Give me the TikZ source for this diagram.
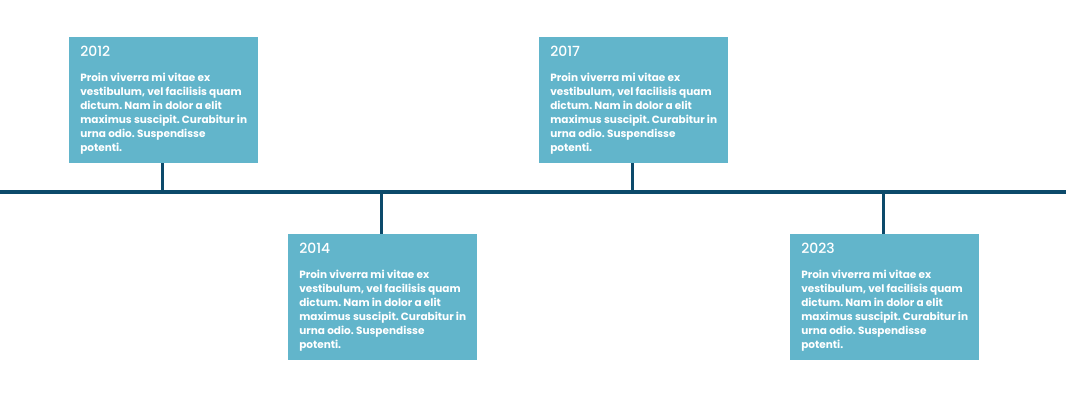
\documentclass[tikz,border=0pt]{standalone}
\usepackage{fontspec}
\setmainfont{Poppins}
\newfontfamily\yearfam{Poppins}[UprightFont={* Medium}]
\usetikzlibrary{positioning,calc}
\definecolor{linenavy}{RGB}{12,74,107}
\definecolor{boxteal}{RGB}{98,181,203}
\tikzset{
  event/.style ={rectangle, fill=boxteal, text=white, anchor=north west,
                 minimum width=189pt, minimum height=126pt, inner sep=0pt,
                 align=left, font=\fontsize{10.5}{14}\selectfont\bfseries\frenchspacing},
  axis/.style  ={draw=linenavy, line width=4pt},
  stem/.style  ={draw=linenavy, line width=3pt},
}
\newcommand{\yearfont}{\fontsize{14}{14}\selectfont\yearfam\mdseries}
\newcommand{\evtext}{Proin viverra mi vitae ex\\ vestibulum, vel facilisis quam\\ dictum. Nam in dolor a elit\\ maximus suscipit. Curabitur in\\ urna odio. Suspendisse\\ potenti.}
\begin{document}
\begin{tikzpicture}[x=1pt, y=-1pt]
\useasboundingbox (0,0) rectangle (1066,415);
\coordinate (tlA) at (0,192);
\coordinate (tlB) at (1066,192);
\draw[axis] (tlA) -- (tlB);
\node[event] (e2012) at (69,37)  {{\yearfont 2012}\\[11pt] \evtext};
\node[event] (e2014) at (288,234) {{\yearfont 2014}\\[11pt] \evtext};
\node[event] (e2017) at (539,37)  {{\yearfont 2017}\\[11pt] \evtext};
\node[event] (e2023) at (790,234) {{\yearfont 2023}\\[11pt] \evtext};
\foreach \e/\x in {e2012/162,e2014/381,e2017/632,e2023/883}
  \coordinate (\e-t) at (\x,192);
\foreach \e in {e2012,e2017} \draw[stem] (\e-t) -- (\e.south -| \e-t);
\foreach \e in {e2014,e2023} \draw[stem] (\e-t) -- (\e.north -| \e-t);
\end{tikzpicture}
\end{document}
